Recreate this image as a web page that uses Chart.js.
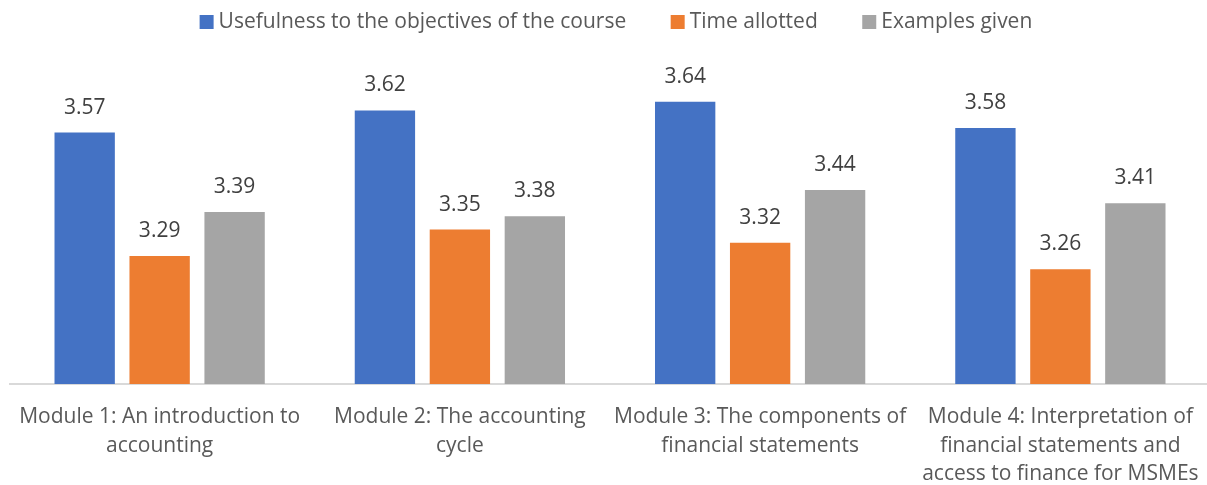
<!DOCTYPE html>
<html>
<head>
<meta charset="utf-8">
<script src="https://cdn.jsdelivr.net/npm/chart.js@4"></script>
<style>
  html, body { margin: 0; padding: 0; background: #ffffff; overflow: hidden; }
  #c { display: block; }
</style>
</head>
<body>
<canvas id="c" width="1228" height="485"></canvas>
<script>
const categories = [
  ["Module 1: An introduction to", "accounting"],
  ["Module 2: The accounting", "cycle"],
  ["Module 3: The components of", "financial statements"],
  ["Module 4: Interpretation of", "financial statements and", "access to finance for MSMEs"]
];
const seriesNames = ["Usefulness to the objectives of the course", "Time allotted", "Examples given"];
const usefulness = [3.57, 3.62, 3.64, 3.58];
const timeAllotted = [3.29, 3.35, 3.32, 3.26];
const examplesGiven = [3.39, 3.38, 3.44, 3.41];
const colors = ["#4472C4", "#ED7D31", "#A5A5A5"];

const FONT = "'Open Sans', 'Noto Sans', sans-serif";

const valueLabels = {
  id: 'valueLabels',
  afterDatasetsDraw(chart) {
    const ctx = chart.ctx;
    ctx.save();
    ctx.font = "21px " + FONT;
    ctx.fillStyle = "#404040";
    ctx.textAlign = "center";
    ctx.textBaseline = "middle";
    chart.data.datasets.forEach((ds, di) => {
      const meta = chart.getDatasetMeta(di);
      meta.data.forEach((bar, i) => {
        ctx.fillText(ds.data[i].toFixed(2), bar.x, bar.y - 25);
      });
    });
    ctx.restore();
  }
};

new Chart(document.getElementById('c'), {
  type: 'bar',
  data: {
    labels: categories,
    datasets: [
      { label: seriesNames[0], data: usefulness, backgroundColor: colors[0] },
      { label: seriesNames[1], data: timeAllotted, backgroundColor: colors[1] },
      { label: seriesNames[2], data: examplesGiven, backgroundColor: colors[2] }
    ]
  },
  options: {
    responsive: false,
    animation: false,
    devicePixelRatio: 1,
    datasets: { bar: { categoryPercentage: 0.749, barPercentage: 0.805, borderWidth: 0 } },
    layout: { padding: { top: -38.5, left: 9.4, right: 0, bottom: -22 } },
    plugins: {
      tooltip: { enabled: false },
      legend: {
        position: 'top',
        labels: {
          usePointStyle: true,
          pointStyle: 'rect',
          boxWidth: 3,
          boxHeight: 14,
          padding: 50,
          color: '#595959',
          font: { family: FONT, size: 21 }
        }
      }
    },
    scales: {
      x: {
        grid: { display: false, drawTicks: false },
        border: { display: true, color: '#d9d9d9', width: 2 },
        ticks: {
          color: '#595959',
          font: { family: FONT, size: 21, lineHeight: 1.38 },
          padding: 18,
          maxRotation: 0,
          autoSkip: false
        }
      },
      y: {
        position: 'right',
        min: 3.0,
        max: 3.774,
        display: true,
        grid: { display: false, drawTicks: false },
        border: { display: false },
        ticks: { display: false },
        afterFit(scale) { scale.width = 17.5; }
      }
    }
  },
  plugins: [valueLabels]
});
</script>
</body>
</html>
